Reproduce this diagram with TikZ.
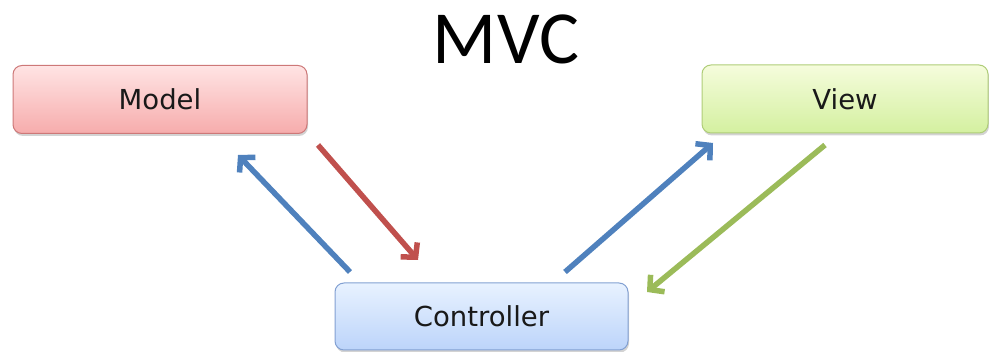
\documentclass[tikz,border=0pt]{standalone}
\usepackage{fontspec}
\setmainfont{DejaVu Sans}
\newfontfamily\titlefont{Carlito}
\usetikzlibrary{arrows.meta,shadows}
\definecolor{mblue}{RGB}{79,129,189}
\definecolor{mred}{RGB}{192,80,77}
\definecolor{mgreen}{RGB}{155,187,89}
\tikzset{
  box/.style={rounded corners=9pt, minimum height=68pt, line width=1pt,
    font=\fontsize{27.5}{30}\selectfont, text=black!90,
    drop shadow={shadow xshift=1pt, shadow yshift=-2.5pt, opacity=0.35}},
  modelbox/.style={box, draw={rgb,255:red,205;green,120;blue,120}, minimum width=294pt,
    top color={rgb,255:red,255;green,228;blue,228}, bottom color={rgb,255:red,246;green,172;blue,172}},
  viewbox/.style={box, draw={rgb,255:red,175;green,205;blue,120}, minimum width=286pt,
    top color={rgb,255:red,245;green,252;blue,220}, bottom color={rgb,255:red,212;green,240;blue,160}},
  ctrlbox/.style={box, draw={rgb,255:red,130;green,160;blue,210}, minimum width=293pt, minimum height=67pt,
    top color={rgb,255:red,232;green,242;blue,255}, bottom color={rgb,255:red,188;green,212;blue,250}},
  flow/.style={line width=5.5pt, -{Straight Barb[length=10pt,width=22pt]}},
}
\begin{document}
\begin{tikzpicture}[x=1pt,y=-1pt]
\useasboundingbox (0,0) rectangle (989,352);
\node[font=\titlefont\fontsize{75}{80}\selectfont, anchor=base] (title) at (506,64) {MVC};
\node[modelbox] (model) at (160,99.5) {Model};
\node[viewbox] (view) at (845,99) {View};
\node[ctrlbox] (ctrl) at (481.5,316.5) {Controller};
\coordinate (c1s) at (350,272);
\coordinate (c1e) at (238,155);
\coordinate (m1s) at (318,145);
\coordinate (m1e) at (418,260);
\coordinate (c2s) at (565,272);
\coordinate (c2e) at (713,143);
\coordinate (v1s) at (825,145);
\coordinate (v1e) at (647,292);
\draw[flow, mblue] (c1s) -- (c1e);
\draw[flow, mred] (m1s) -- (m1e);
\draw[flow, mblue] (c2s) -- (c2e);
\draw[flow, mgreen] (v1s) -- (v1e);
\end{tikzpicture}
\end{document}
